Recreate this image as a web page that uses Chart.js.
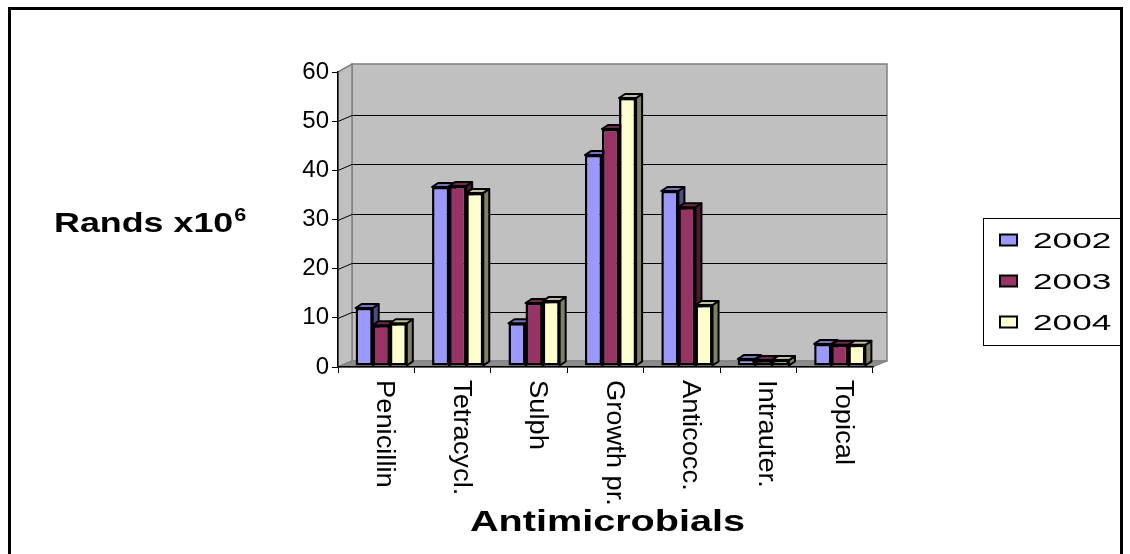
<!DOCTYPE html>
<html>
<head>
<meta charset="utf-8">
<script src="https://cdn.jsdelivr.net/npm/chart.js@4/dist/chart.umd.min.js"></script>
<style>
  html, body { margin: 0; padding: 0; background: #fff; }
  #wrap { position: relative; width: 1130px; height: 554px; }
</style>
</head>
<body>
<div id="wrap"><canvas id="chart" width="1130" height="554"></canvas></div>
<script>
// Data (Rands x10^6)
const categories = ['Penicillin', 'Tetracycl.', 'Sulph', 'Growth pr.', 'Anticocc.', 'Intrauter.', 'Topical'];
const years = ['2002', '2003', '2004'];
const values2002 = [11.8, 36.4, 8.7, 42.9, 35.6, 1.4, 4.5];
const values2003 = [8.3, 36.6, 12.8, 48.2, 32.3, 1.2, 4.3];
const values2004 = [8.7, 35.2, 13.2, 54.5, 12.4, 1.2, 4.3];
const yMin = 0;
const yMax = 60;
const yStep = 10;

const colors = ['#9999FF', '#993366', '#FFFFCC'];
const FONT = '"Liberation Sans", Arial, Helvetica, sans-serif';

// 3D look
const WALL_X = 14, WALL_Y = 6;      // back wall offset from the front axes
const DEPTH_X = 6, DEPTH_Y = 4;     // bar depth
const SHIFT_X = 5, SHIFT_Y = -1;    // bars sit a bit behind the front plane

function shade(hex, f) {
    const n = parseInt(hex.slice(1), 16);
    const r = Math.round(((n >> 16) & 255) * f);
    const g = Math.round(((n >> 8) & 255) * f);
    const b = Math.round((n & 255) * f);
    return `rgb(${r},${g},${b})`;
}

function poly(ctx, pts, fill, stroke, lw) {
    ctx.beginPath();
    ctx.moveTo(pts[0][0], pts[0][1]);
    for (let i = 1; i < pts.length; i++) ctx.lineTo(pts[i][0], pts[i][1]);
    ctx.closePath();
    if (fill) { ctx.fillStyle = fill; ctx.fill(); }
    if (stroke) { ctx.strokeStyle = stroke; ctx.lineWidth = lw || 1; ctx.stroke(); }
}

function stretchedText(ctx, text, x, y, font, sx, align) {
    ctx.save();
    ctx.font = font;
    ctx.translate(x, y);
    ctx.scale(sx, 1);
    ctx.textAlign = align || 'left';
    ctx.textBaseline = 'alphabetic';
    ctx.fillStyle = '#000';
    ctx.fillText(text, 0, 0);
    const w = ctx.measureText(text).width * sx;
    ctx.restore();
    return w;
}

// background, frame, walls, floor and back gridlines
const wallsPlugin = {
    id: 'walls',
    beforeDraw(chart) {
        const { ctx, chartArea: a } = chart;
        const y = chart.scales.y;
        ctx.save();
        ctx.fillStyle = '#fff';
        ctx.fillRect(0, 0, chart.width, chart.height);

        ctx.strokeStyle = '#000';
        ctx.lineWidth = 3;
        ctx.strokeRect(9.5, 8.5, 1112, 580);

        const bl = a.left + WALL_X, bt = a.top - WALL_Y - 2;
        const br = a.right + WALL_X, bb = a.bottom - WALL_Y;

        // back wall
        poly(ctx, [[bl, bt], [br, bt], [br, bb], [bl, bb]], '#c0c0c0', '#808080', 1.5);
        // left wall
        poly(ctx, [[a.left, a.top], [bl, bt], [bl, bb], [a.left, a.bottom]], '#c0c0c0', '#808080', 1.5);
        // floor
        poly(ctx, [[a.left, a.bottom], [a.right, a.bottom], [br, bb], [bl, bb]], '#8c8c8c', '#808080', 1);

        ctx.strokeStyle = '#000';
        ctx.lineWidth = 1;
        y.ticks.forEach(t => {
            if (t.value <= yMin || t.value >= yMax) return;
            const py = Math.round(y.getPixelForValue(t.value)) + 0.5;
            ctx.beginPath();
            ctx.moveTo(a.left, py);
            ctx.lineTo(bl, py - WALL_Y);
            ctx.lineTo(br, py - WALL_Y);
            ctx.stroke();
        });
        ctx.restore();
    }
};

// side and top faces of every bar, then shift the front faces
const bars3dPlugin = {
    id: 'bars3d',
    beforeDatasetsDraw(chart) {
        const ctx = chart.ctx;
        ctx.save();
        ctx.lineJoin = 'round';
        chart.data.datasets.forEach((ds, i) => {
            const meta = chart.getDatasetMeta(i);
            meta.data.forEach(bar => {
                const p = bar.getProps(['x', 'y', 'base', 'width'], true);
                const l = p.x - p.width / 2 + SHIFT_X;
                const r = p.x + p.width / 2 + SHIFT_X;
                const t = p.y + SHIFT_Y;
                const b = p.base + SHIFT_Y;
                poly(ctx, [[r, t], [r + DEPTH_X, t - DEPTH_Y], [r + DEPTH_X, b - DEPTH_Y], [r, b]],
                    shade(ds.backgroundColor, 0.5), '#000', 2);
                poly(ctx, [[l, t], [l + DEPTH_X, t - DEPTH_Y], [r + DEPTH_X, t - DEPTH_Y], [r, t]],
                    shade(ds.backgroundColor, 0.75), '#000', 2);
            });
        });
        ctx.restore();
        ctx.save();
        ctx.translate(SHIFT_X, SHIFT_Y);
    },
    afterDatasetsDraw(chart) {
        chart.ctx.restore();
    }
};

// rotated category labels, axis titles and the boxed legend
const textPlugin = {
    id: 'texts',
    afterDraw(chart) {
        const { ctx, chartArea: a } = chart;
        const x = chart.scales.x;

        categories.forEach((label, i) => {
            const px = x.getPixelForValue(i);
            ctx.save();
            ctx.translate(px + 1, 380);
            ctx.rotate(Math.PI / 2);
            ctx.scale(1.05, 1);
            ctx.font = `26px ${FONT}`;
            ctx.fillStyle = '#000';
            ctx.textAlign = 'left';
            ctx.textBaseline = 'alphabetic';
            ctx.fillText(label, 0, 0);
            ctx.restore();
        });

        // y title with superscript
        const w = stretchedText(ctx, 'Rands x10', 54, 232, `bold 28px ${FONT}`, 1.28, 'left');
        stretchedText(ctx, '6', 54 + w + 1, 221, `bold 18px ${FONT}`, 1.2, 'left');

        // x title
        stretchedText(ctx, 'Antimicrobials', (a.left + a.right) / 2 + 2, 531, `bold 30px ${FONT}`, 1.32, 'center');

        // legend
        ctx.save();
        ctx.strokeStyle = '#000';
        ctx.lineWidth = 1;
        ctx.strokeRect(983.5, 218.5, 138, 127);
        chart.data.datasets.forEach((ds, i) => {
            const cy = 240 + i * 41;
            ctx.fillStyle = ds.backgroundColor;
            ctx.fillRect(1000, cy - 5.5, 17, 11);
            ctx.lineWidth = 2;
            ctx.strokeRect(1000, cy - 5.5, 17, 11);
            stretchedText(ctx, ds.label, 1033, cy + 8, `22px ${FONT}`, 1.6, 'left');
        });
        ctx.restore();
    }
};

const datasets = [values2002, values2003, values2004].map((vals, i) => ({
    label: years[i],
    data: vals,
    backgroundColor: colors[i],
    borderColor: '#000',
    borderWidth: 2.5,
    borderSkipped: false,
    categoryPercentage: 0.67,
    barPercentage: 1.0,
}));

const canvas = document.getElementById('chart');
const chart = new Chart(canvas, {
    type: 'bar',
    data: {
        labels: categories,
        datasets,
    },
    options: {
        responsive: false,
        animation: false,
        events: [],
        layout: { padding: { left: 278, right: 257, top: 72, bottom: 167 } },
        plugins: {
            legend: { display: false },
            tooltip: { enabled: false },
        },
        scales: {
            x: {
                grid: { display: true, drawOnChartArea: false, offset: true, color: '#000', tickLength: 6 },
                border: { color: '#000', width: 1.5 },
                ticks: { display: false },
                afterFit: s => { s.height = 20; },
            },
            y: {
                min: yMin,
                max: yMax,
                ticks: { stepSize: yStep, color: '#000', font: { family: FONT, size: 24 }, padding: 3 },
                grid: { drawOnChartArea: false, color: '#000', tickLength: 6 },
                border: { color: '#000', width: 1.5 },
                afterFit: s => { s.width = 60; },
            },
        },
    },
    plugins: [wallsPlugin, bars3dPlugin, textPlugin],
});
</script>
</body>
</html>
